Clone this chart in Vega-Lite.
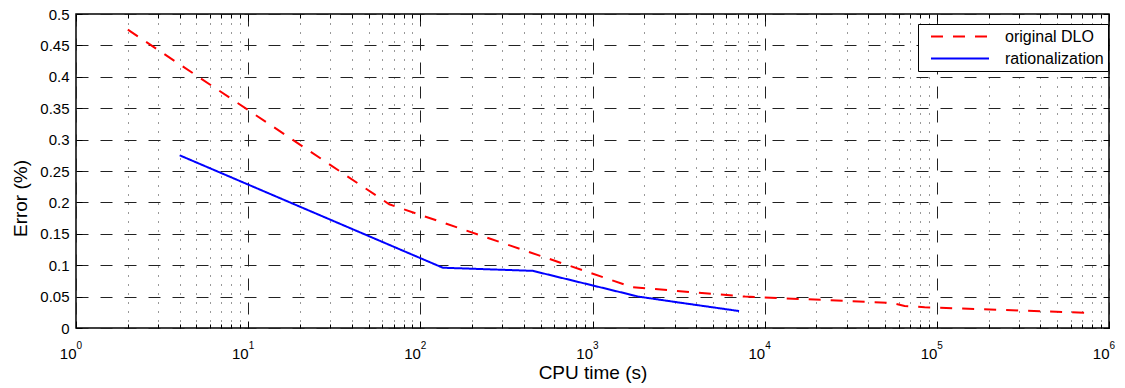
{
  "$schema": "https://vega.github.io/schema/vega-lite/v6.json",
  "width": 1033,
  "height": 314,
  "autosize": {"type": "none"},
  "padding": {"left": 76, "top": 14, "right": 16, "bottom": 60},
  "background": "white",
  "config": {
    "font": "Liberation Sans",
    "view": {"stroke": "black", "strokeWidth": 1.5},
    "axis": {"labelColor": "black", "titleColor": "black", "titleFontWeight": "normal", "tickColor": "black", "labelFlush": false, "labelOverlap": false, "labelBound": false},
    "legend": {
      "orient": "none", "legendX": 842, "legendY": 10,
      "fillColor": "white", "strokeColor": "black", "padding": 4,
      "symbolType": "stroke", "symbolSize": 3364, "symbolStrokeWidth": 2, "symbolOffset": 8, "clipHeight": 17,
      "labelFontSize": 16, "labelColor": "black", "labelOffset": 15, "rowPadding": 5, "labelLimit": 300
    }
  },
  "data": {
    "values": [
      {"series": "original DLO", "time": 2, "error": 0.475},
      {"series": "original DLO", "time": 66, "error": 0.197},
      {"series": "original DLO", "time": 1700, "error": 0.065},
      {"series": "original DLO", "time": 7700, "error": 0.05},
      {"series": "original DLO", "time": 55000, "error": 0.04},
      {"series": "original DLO", "time": 65000, "error": 0.035},
      {"series": "original DLO", "time": 85000, "error": 0.033},
      {"series": "original DLO", "time": 800000, "error": 0.024},
      {"series": "rationalization", "time": 4, "error": 0.275},
      {"series": "rationalization", "time": 135, "error": 0.096},
      {"series": "rationalization", "time": 450, "error": 0.091},
      {"series": "rationalization", "time": 1850, "error": 0.05},
      {"series": "rationalization", "time": 3100, "error": 0.041},
      {"series": "rationalization", "time": 7100, "error": 0.027}
    ]
  },
  "resolve": {"axis": {"x": "independent", "y": "independent"}},
  "layer": [
    {
      "mark": {"type": "line", "opacity": 0},
      "encoding": {
        "x": {"field": "time", "type": "quantitative", "scale": {"type": "log", "domain": [1, 1000000], "nice": false},
          "axis": {"orient": "bottom", "title": null, "labels": false, "domain": false, "ticks": true, "tickSize": -4,
            "values": [2,3,4,5,6,7,8,9,20,30,40,50,60,70,80,90,200,300,400,500,600,700,800,900,2000,3000,4000,5000,6000,7000,8000,9000,20000,30000,40000,50000,60000,70000,80000,90000,200000,300000,400000,500000,600000,700000,800000,900000],
            "grid": true, "gridDash": [1, 8], "gridColor": "#333", "gridWidth": 1}},
        "y": {"field": "error", "type": "quantitative", "scale": {"domain": [0, 0.5], "nice": false},
          "axis": {"orient": "right", "title": null, "labels": false, "domain": false, "grid": false, "ticks": true, "tickSize": -6,
            "values": [0, 0.05, 0.1, 0.15, 0.2, 0.25, 0.3, 0.35, 0.4, 0.45, 0.5]}}
      }
    },
    {
      "mark": {"type": "line", "strokeWidth": 2},
      "encoding": {
        "x": {"field": "time", "type": "quantitative",
          "axis": {"orient": "bottom", "title": "CPU time (s)", "titleFontSize": 19, "titleY": 50, "titleBaseline": "alphabetic",
            "values": [1, 10, 100, 1000, 10000, 100000, 1000000], "labelExpr": "'10'", "labelFontSize": 15,
            "labelBaseline": "alphabetic", "labelPadding": 30, "labelAlign": "right", "labelDx": 4,
            "ticks": false, "domain": false, "grid": true, "gridDash": [12, 12], "gridColor": "#222", "gridWidth": 1}},
        "y": {"field": "error", "type": "quantitative",
          "axis": {"orient": "left", "title": "Error (%)", "titleFontSize": 19, "titleX": -50, "titleY": 184, "titleBaseline": "alphabetic",
            "values": [0, 0.05, 0.1, 0.15, 0.2, 0.25, 0.3, 0.35, 0.4, 0.45, 0.5], "format": ".2~f",
            "labelFontSize": 15, "labelPadding": 7,
            "ticks": false, "domain": false, "grid": true, "gridDash": [12, 12], "gridColor": "#222", "gridWidth": 1}},
        "color": {"field": "series", "type": "nominal", "scale": {"domain": ["original DLO", "rationalization"], "range": ["#ff0000", "#0000ff"]}, "legend": {"title": null}},
        "strokeDash": {"field": "series", "type": "nominal", "scale": {"domain": ["original DLO", "rationalization"], "range": [[12, 10], [1, 0]]}, "legend": {"title": null}}
      }
    },
    {
      "mark": {"type": "line", "opacity": 0},
      "encoding": {
        "x": {"field": "time", "type": "quantitative",
          "axis": {"orient": "bottom", "title": null, "values": [1, 10, 100, 1000, 10000, 100000, 1000000],
            "labelExpr": "'' + round(log(datum.value) / LN10)", "labelFontSize": 10,
            "labelBaseline": "alphabetic", "labelPadding": 20, "labelAlign": "left", "labelDx": 6,
            "ticks": false, "domain": false, "grid": false}},
        "y": {"field": "error", "type": "quantitative", "axis": null}
      }
    },
    {
      "mark": {"type": "line", "opacity": 0},
      "encoding": {
        "x": {"field": "time", "type": "quantitative",
          "axis": {"orient": "bottom", "title": null, "values": [1, 10, 100, 1000, 10000, 100000, 1000000], "labels": false,
            "ticks": true, "tickSize": -7, "domain": false, "grid": false}},
        "y": {"field": "error", "type": "quantitative",
          "axis": {"orient": "left", "title": null, "labels": false, "domain": false, "grid": false, "ticks": true, "tickSize": -6,
            "values": [0, 0.05, 0.1, 0.15, 0.2, 0.25, 0.3, 0.35, 0.4, 0.45, 0.5]}}
      }
    },
    {
      "mark": {"type": "line", "opacity": 0},
      "encoding": {
        "x": {"field": "time", "type": "quantitative",
          "axis": {"orient": "top", "title": null, "labels": false, "domain": false, "grid": false, "ticks": true, "tickSize": -4,
            "values": [2,3,4,5,6,7,8,9,20,30,40,50,60,70,80,90,200,300,400,500,600,700,800,900,2000,3000,4000,5000,6000,7000,8000,9000,20000,30000,40000,50000,60000,70000,80000,90000,200000,300000,400000,500000,600000,700000,800000,900000]}},
        "y": {"field": "error", "type": "quantitative", "axis": null}
      }
    },
    {
      "mark": {"type": "line", "opacity": 0},
      "encoding": {
        "x": {"field": "time", "type": "quantitative",
          "axis": {"orient": "top", "title": null, "labels": false, "domain": false, "grid": false, "ticks": true, "tickSize": -7,
            "values": [1, 10, 100, 1000, 10000, 100000, 1000000]}},
        "y": {"field": "error", "type": "quantitative", "axis": null}
      }
    }
  ]
}
